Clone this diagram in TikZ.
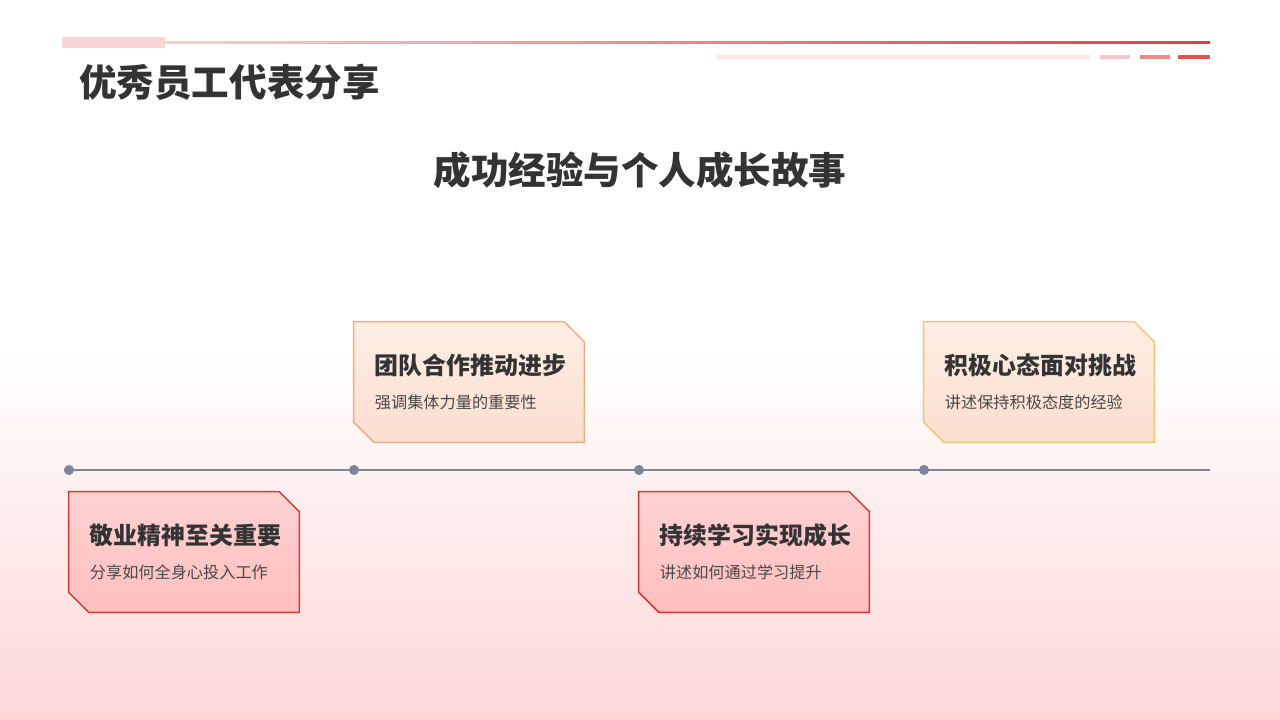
\documentclass[tikz,border=0pt]{standalone}
\usepackage{fontspec}
\setmainfont{Noto Sans CJK SC}
\usepackage{tikz}
\usepackage{xcolor}
\usetikzlibrary{positioning,calc}
\definecolor{txtdark}{RGB}{51,51,51}
\definecolor{txtmid}{RGB}{72,72,72}
\definecolor{bgpink}{RGB}{253,214,214}
\definecolor{linegray}{RGB}{124,134,154}
\definecolor{redline}{RGB}{230,60,60}
\definecolor{peachfill}{RGB}{253,238,228}
\definecolor{peachlow}{RGB}{251,222,208}
\definecolor{peachedge}{RGB}{238,172,128}
\definecolor{goldedge}{RGB}{240,198,112}
\definecolor{rosefill}{RGB}{255,210,210}
\definecolor{roselow}{RGB}{255,190,190}
\definecolor{roseedge}{RGB}{226,52,52}
% chamfered outline round a named card node
\newcommand{\cardshape}[2]{%
  \path[#2] (#1.north west) -- ($(#1.north east)+(-20,0)$) -- ($(#1.north east)+(0,-20)$)
    -- (#1.south east) -- ($(#1.south west)+(20,0)$) -- ($(#1.south west)+(0,20)$) -- cycle;}

\begin{document}
\begin{tikzpicture}[x=0.025cm, y=0.025cm,
  card/.style   ={rectangle, minimum width=5.75cm, minimum height=3cm, inner sep=0pt},
  cardUp/.style ={draw=peachedge, line width=1.1pt, top color=peachfill, bottom color=peachlow},
  cardDn/.style ={draw=roseedge, line width=1.1pt, top color=rosefill, bottom color=roselow},
  cardHead/.style={font=\bfseries\fontsize{17}{20}\selectfont, text=txtdark, anchor=west, inner sep=0pt},
  cardSub/.style ={font=\fontsize{11.5}{14}\selectfont, text=txtmid, anchor=west, inner sep=0pt},
  dot/.style    ={circle, fill=linegray, inner sep=0pt, minimum size=7pt},
]
\useasboundingbox (0,0) rectangle (1280,720);
% background: white above, pink wash below
\fill[white] (0,0) rectangle (1280,720);
\shade[top color=white, bottom color=bgpink] (0,0) rectangle (1280,370);

% header decoration
\fill[redline!22] (62,672) rectangle (165,683);
\shade[left color=redline!25, right color=redline] (165,676.3) rectangle (1210,678);
\fill[redline!13] (717,661) rectangle (1090,665);
\fill[redline!28] (1100,661) rectangle (1130,665);
\fill[redline!60] (1140,661) rectangle (1170,665);
\fill[redline!90] (1178,661) rectangle (1210,665);

\node[font=\bfseries\fontsize{26.7}{30}\selectfont, text=txtdark, anchor=west, inner sep=0pt] (title) at (79,638) {优秀员工代表分享};
\node[font=\bfseries\fontsize{26.7}{32}\selectfont, text=txtdark, inner sep=0pt] (subtitle) at (640,550) {成功经验与个人成长故事};

% timeline
\coordinate (tEnd) at (1210,250);
\node[dot] (d1) at (69,250) {};
\node[dot] (d2) at (354,250) {};
\node[dot] (d3) at (639,250) {};
\node[dot] (d4) at (924,250) {};
\draw[linegray, line width=1.8pt] (d1.center) -- (tEnd);
\foreach \d in {d1,d2,d3,d4} \node[dot] at (\d) {};

% cards
\node[card] (c1) at (184,168) {};
\node[card] (c2) at (469,338) {};
\node[card] (c3) at (754,168) {};
\node[card] (c4) at (1039,338) {};
\cardshape{c1}{cardDn}
\cardshape{c2}{cardUp}
\cardshape{c3}{cardDn}
\cardshape{c4}{cardUp, draw=goldedge}

\node[cardHead] (c1h) at ($(c1.west)+(21,17)$) {敬业精神至关重要};
\node[cardSub]  (c1s) at ($(c1.west)+(21,-20)$) {分享如何全身心投入工作};
\node[cardHead] (c2h) at ($(c2.west)+(21,17)$) {团队合作推动进步};
\node[cardSub]  (c2s) at ($(c2.west)+(21,-20)$) {强调集体力量的重要性};
\node[cardHead] (c3h) at ($(c3.west)+(21,17)$) {持续学习实现成长};
\node[cardSub]  (c3s) at ($(c3.west)+(21,-20)$) {讲述如何通过学习提升};
\node[cardHead] (c4h) at ($(c4.west)+(21,17)$) {积极心态面对挑战};
\node[cardSub]  (c4s) at ($(c4.west)+(21,-20)$) {讲述保持积极态度的经验};
\end{tikzpicture}
\end{document}
